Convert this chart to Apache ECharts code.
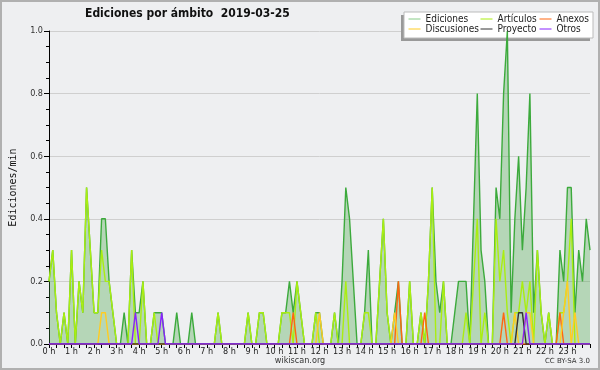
<!DOCTYPE html>
<html><head><meta charset="utf-8">
<script src="https://cdn.jsdelivr.net/npm/echarts@6/dist/echarts.min.js"></script>
<style>html,body{margin:0;padding:0;background:#eeeff1}#c{width:600px;height:370px}</style>
</head><body><div id="c"></div>
<script>
// Tick labels (hours)
const hourLabels = ['0 h','1 h','2 h','3 h','4 h','5 h','6 h','7 h','8 h','9 h','10 h','11 h','12 h','13 h','14 h','15 h','16 h','17 h','18 h','19 h','20 h','21 h','22 h','23 h',''];
// 10-minute buckets, 00:00 .. 24:00 (edits per minute)
const ediciones = [
 .2,.3,.1,0,.1,0,   .3,0,.2,.1,.5,.3,   .1,.1,.4,.4,.2,.1,  0,0,.1,0,.3,.1,
 .1,.2,0,0,.1,.1,   .1,0,0,0,.1,0,      0,0,.1,0,0,0,       0,0,0,.1,0,0,
 0,0,0,0,0,.1,      0,0,.1,.1,0,0,      0,0,.1,.1,.2,.1,    .2,.1,0,0,0,.1,
 .1,0,0,0,.1,0,     .2,.5,.4,.2,0,0,    .1,.3,0,0,.2,.4,    .1,0,.1,.2,0,0,
 .2,0,0,.1,0,.2,    .5,.2,.1,.2,0,0,    .1,.2,.2,.2,0,.4,   .8,.3,.2,0,0,.5,
 .4,.8,1,.1,.4,.6,  .3,.5,.8,.1,.3,.1,  0,.1,0,0,.3,.2,     .5,.5,.1,.3,.2,.4,
 .3];
const articulos = [
 .2,.3,.1,0,.1,0,   .3,0,.2,.1,.5,.3,   .1,.1,.3,.2,.2,.1,  0,0,0,0,.3,0,
 0,.2,0,0,.1,0,     0,0,0,0,0,0,        0,0,0,0,0,0,        0,0,0,.1,0,0,
 0,0,0,0,0,.1,      0,0,.1,.1,0,0,      0,0,.1,.1,.1,0,     .2,.1,0,0,0,.1,
 0,0,0,0,.1,0,      0,.2,0,0,0,0,       .1,.1,0,0,.2,.4,    .1,0,0,0,0,0,
 .2,0,0,.1,0,.2,    .5,0,0,.2,0,0,      0,0,0,.1,0,.2,      .4,0,.1,0,0,.4,
 .2,.3,.1,0,.1,.1,  .2,.1,.2,0,.3,.1,   0,.1,0,0,.1,.1,     .2,.4,0,0,0,0,
 0];
const anexos = [
 0,0,0,0,0,0, 0,0,0,0,0,0, 0,0,0,0,0,0, 0,0,0,0,0,0,
 0,0,0,0,0,0, 0,0,0,0,0,0, 0,0,0,0,0,0, 0,0,0,0,0,0,
 0,0,0,0,0,0, 0,0,0,0,0,0, 0,0,0,0,0,.1, 0,0,0,0,0,0,
 0,0,0,0,0,0, 0,0,0,0,0,0, 0,0,0,0,0,0, 0,0,0,.2,0,0,
 0,0,0,0,.1,0, 0,0,0,0,0,0, 0,0,0,0,0,0, 0,0,0,0,0,0,
 0,.1,0,0,0,0, 0,0,0,0,0,0, 0,0,0,0,.1,0, 0,0,0,0,0,0,
 0];
const discusiones = [
 0,0,0,0,0,0, 0,0,0,0,0,0, 0,0,.1,.1,0,0, 0,0,0,0,0,0,
 0,0,0,0,0,0, 0,0,0,0,0,0, 0,0,0,0,0,0, 0,0,0,0,0,0,
 0,0,0,0,0,0, 0,0,0,0,0,0, 0,0,0,0,0,0, 0,0,0,0,0,0,
 .1,0,0,0,0,0, 0,0,0,0,0,0, 0,0,0,0,0,0, 0,0,.1,0,0,0,
 0,0,0,0,0,0, 0,0,0,0,0,0, 0,0,0,0,0,0, 0,0,0,0,0,0,
 0,0,0,0,.1,0, 0,.1,.1,0,0,0, 0,0,0,0,0,.1, .2,0,.1,0,0,0,
 0];
const proyecto = [
 0,0,0,0,0,0, 0,0,0,0,0,0, 0,0,0,0,0,0, 0,0,0,0,0,0,
 0,0,0,0,0,0, 0,0,0,0,0,0, 0,0,0,0,0,0, 0,0,0,0,0,0,
 0,0,0,0,0,0, 0,0,0,0,0,0, 0,0,0,0,0,0, 0,0,0,0,0,0,
 0,0,0,0,0,0, 0,0,0,0,0,0, 0,0,0,0,0,0, 0,0,0,0,0,0,
 0,0,0,0,0,0, 0,0,0,0,0,0, 0,0,0,0,0,0, 0,0,0,0,0,0,
 0,0,0,0,0,.1, .1,0,0,0,0,0, 0,0,0,0,0,0, 0,0,0,0,0,0,
 0];
const otros = [
 0,0,0,0,0,0, 0,0,0,0,0,0, 0,0,0,0,0,0, 0,0,0,0,0,.1,
 0,0,0,0,0,0, .1,0,0,0,0,0, 0,0,0,0,0,0, 0,0,0,0,0,0,
 0,0,0,0,0,0, 0,0,0,0,0,0, 0,0,0,0,0,0, 0,0,0,0,0,0,
 0,0,0,0,0,0, 0,0,0,0,0,0, 0,0,0,0,0,0, 0,0,0,0,0,0,
 0,0,0,0,0,0, 0,0,0,0,0,0, 0,0,0,0,0,0, 0,0,0,0,0,0,
 0,0,0,0,0,0, 0,.1,0,0,0,0, 0,0,0,0,0,0, 0,0,0,0,0,0,
 0];

const categories = ediciones.map((_, i) => Math.floor(i / 6) + ':' + String((i % 6) * 10).padStart(2, '0'));
const FONT = '"DejaVu Sans Condensed", "DejaVu Sans"';
const chart = echarts.init(document.getElementById('c'), null, {renderer: 'canvas'});

function lineSeries(name, data, color, z, extra) {
  return Object.assign({
    name, type: 'line', data, symbol: 'none', showSymbol: false, z,
    lineStyle: {color, width: 1.4}, itemStyle: {color}, emphasis: {disabled: true}
  }, extra || {});
}

const legendText = {fontSize: 10, fontFamily: FONT, color: '#222'};
function legendCol(names, left) {
  return {
    data: names, orient: 'vertical', left, top: 14, padding: 0, itemGap: 0,
    itemWidth: 12, itemHeight: 10, textStyle: legendText, selectedMode: false, z: 10,
    itemStyle: {opacity: 0}, lineStyle: {width: 1}
  };
}

chart.setOption({
  animation: false,
  backgroundColor: '#eeeff1',
  grid: {left: 46, right: 10, top: 31, bottom: 26},
  xAxis: {
    type: 'category', data: categories, boundaryGap: false,
    axisLine: {lineStyle: {color: '#000', width: 1}},
    axisTick: {interval: 1, length: 4, lineStyle: {color: '#000'}},
    axisLabel: {interval: 5, margin: 3, fontSize: 9, fontFamily: FONT, color: '#222',
      formatter: (v, i) => hourLabels[i / 6] || ''},
    splitLine: {show: false}
  },
  yAxis: {
    type: 'value', min: 0, max: 1, interval: 0.2,
    name: 'Ediciones/min', nameLocation: 'middle', nameGap: 31,
    nameTextStyle: {fontFamily: 'DejaVu Sans Mono', fontSize: 10, color: '#111'},
    axisLine: {show: true, lineStyle: {color: '#000', width: 1}},
    axisTick: {show: true, length: 5, lineStyle: {color: '#000'}},
    minorTick: {show: true, splitNumber: 4, length: 3, lineStyle: {color: '#000'}},
    axisLabel: {margin: 6, fontSize: 9, fontFamily: FONT, color: '#333', formatter: v => v.toFixed(1)},
    splitLine: {lineStyle: {color: '#cfcfcf', width: 1}}
  },
  legend: [
    legendCol([{name: 'Ediciones', lineStyle: {color: '#8c8'}}, 'Discusiones'], 408),
    legendCol(['Artículos', 'Proyecto'], 480),
    legendCol(['Anexos', 'Otros'], 539)
  ],
  graphic: [
    {type: 'rect', z: 1, shape: {x: 401, y: 15, width: 189, height: 26}, style: {fill: '#999'}},
    {type: 'rect', z: 1, shape: {x: 404, y: 12, width: 189, height: 26}, style: {fill: '#fff', stroke: '#bbb', lineWidth: 1}},
    {type: 'text', z: 20, left: 85, top: 8, style: {text: 'Ediciones por ámbito  2019-03-25', font: 'bold 12px "DejaVu Sans Condensed", "DejaVu Sans"', fill: '#111'}},
    {type: 'text', z: 20, left: 'center', top: 356, style: {text: 'wikiscan.org', font: '9px "DejaVu Sans Condensed", "DejaVu Sans"', fill: '#333'}},
    {type: 'text', z: 20, right: 10, top: 358, style: {text: 'CC BY-SA 3.0', font: '7px "DejaVu Sans"', fill: '#333'}},
    {type: 'rect', z: 100, shape: {x: 1, y: 1, width: 598, height: 368}, style: {fill: 'none', stroke: '#b0b0b0', lineWidth: 2}}
  ],
  series: [
    lineSeries('Ediciones', ediciones, '#3caa3c', 2, {areaStyle: {color: 'rgba(60,160,60,0.45)'}}),
    lineSeries('Artículos', articulos, '#aaee11', 3),
    lineSeries('Anexos', anexos, '#ff6611', 4),
    lineSeries('Discusiones', discusiones, '#ffcc22', 4),
    lineSeries('Proyecto', proyecto, '#333333', 5),
    lineSeries('Otros', otros, '#8822ff', 5)
  ]
});
</script></body></html>
